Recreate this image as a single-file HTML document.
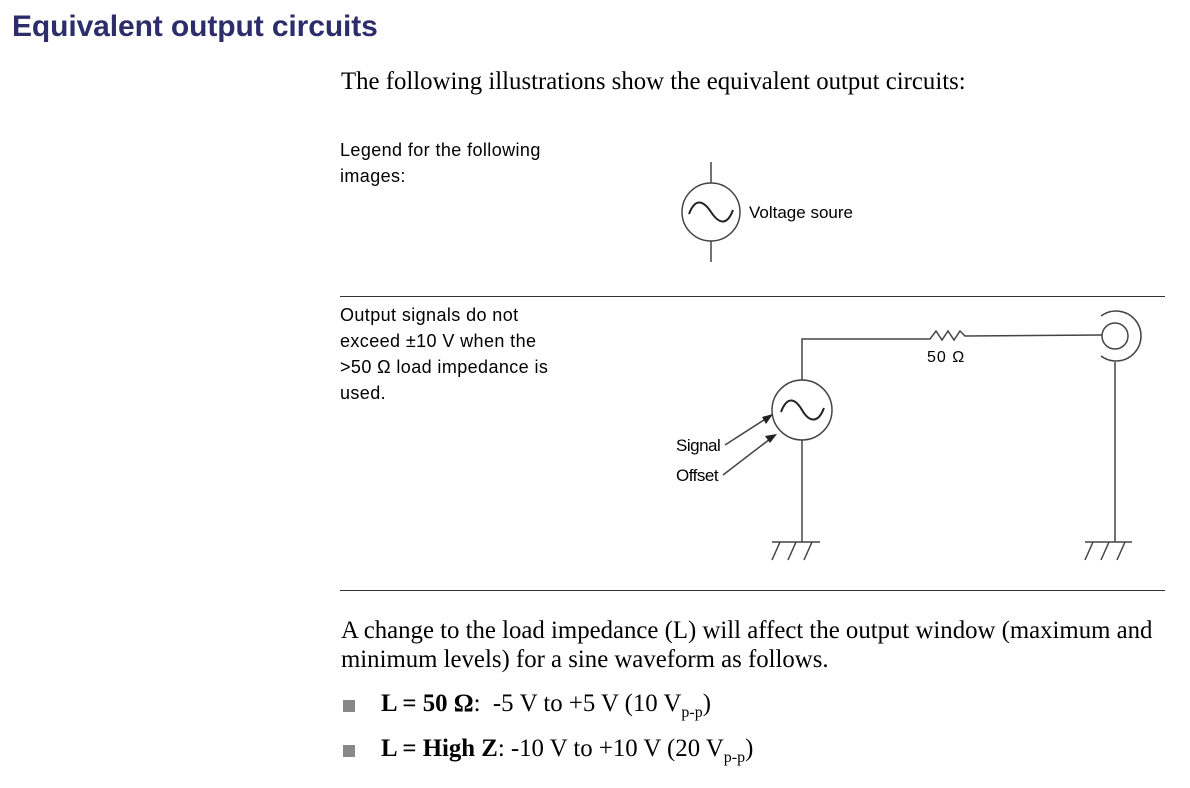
<!DOCTYPE html>
<html><head><style>
body{margin:0;width:1190px;height:788px;background:#fff;position:relative;overflow:hidden;font-family:"Liberation Sans",sans-serif;color:#000}
.a{position:absolute;white-space:nowrap}
.t{font-family:"Liberation Serif",serif;font-size:24.8px}
.s{font-size:18px;line-height:26px;letter-spacing:0.4px}
.hr{position:absolute;left:340px;width:825px;height:1px;background:#333}
.b{position:absolute;width:12px;height:12px;background:#888}
</style></head><body>
<div class="a" style="left:12px;top:10px;font-size:30px;font-weight:bold;color:#2d2d6b;letter-spacing:-0.1px">Equivalent output circuits</div>
<div class="a t" style="left:341px;top:68px">The following illustrations show the equivalent output circuits:</div>
<div class="a s" style="left:340px;top:137px">Legend for the following<br>images:</div>
<div class="hr" style="top:296px"></div>
<div class="a s" style="left:340px;top:302px">Output signals do not<br>exceed ±10 V when the<br>&gt;50 Ω load impedance is<br>used.</div>
<div class="hr" style="top:590px"></div>
<div class="a t" style="left:341px;top:616px;line-height:29px">A change to the load impedance (L) will affect the output window (maximum and<br>minimum levels) for a sine waveform as follows.</div>
<div class="b" style="left:343px;top:700px"></div>
<div class="a t" style="left:381px;top:690px"><b>L = 50 Ω</b>:&nbsp; -5 V to +5 V (10 V<sub style="font-size:16px">p-p</sub>)</div>
<div class="b" style="left:343px;top:745px"></div>
<div class="a t" style="left:381px;top:735px"><b>L = High Z</b>: -10 V to +10 V (20 V<sub style="font-size:16px">p-p</sub>)</div>
<svg class="a" style="left:0;top:0" width="1190" height="788" viewBox="0 0 1190 788">
<g fill="none" stroke="#444" stroke-width="1.5">
<line x1="711" y1="162" x2="711" y2="183"/><line x1="711" y1="241" x2="711" y2="262"/>
<circle cx="711" cy="212" r="29"/>
<path d="M689 214 C695 198,703 200,711 212 S727 226,733 210" stroke="#222" stroke-width="2"/>
<polyline points="802,380 802,339 930,339 936,331 942,340 948,331 954,340 960,331 965,336 1102,335"/>
<circle cx="802" cy="410" r="30"/>
<path d="M781 412 C787 396,795 398,802 410 S818 424,824 408" stroke="#222" stroke-width="2"/>
<line x1="802" y1="440" x2="802" y2="542"/>
<circle cx="1115" cy="336" r="13"/>
<path d="M1101 316 A25 25 0 1 1 1101 356"/>
<line x1="1115" y1="362" x2="1115" y2="542"/>
<line x1="772" y1="542" x2="820" y2="542"/>
<line x1="780" y1="542" x2="772" y2="560"/><line x1="796" y1="542" x2="788" y2="560"/><line x1="812" y1="542" x2="804" y2="560"/>
<line x1="1085" y1="542" x2="1132" y2="542"/>
<line x1="1093" y1="542" x2="1085" y2="560"/><line x1="1109" y1="542" x2="1101" y2="560"/><line x1="1125" y1="542" x2="1117" y2="560"/>
<line x1="725" y1="445" x2="767" y2="418"/><line x1="723" y1="475" x2="770" y2="439"/>
</g>
<polygon points="773,414 762,417 766,424" fill="#222"/>
<polygon points="777,434 765,436 770,443" fill="#222"/>
</svg>
<div class="a" style="left:749px;top:203px;font-size:17px;letter-spacing:0px">Voltage soure</div>
<div class="a" style="left:927px;top:349px;font-size:16px;letter-spacing:1px">50 Ω</div>
<div class="a" style="left:676px;top:436px;font-size:17px;letter-spacing:-0.5px">Signal</div>
<div class="a" style="left:676px;top:466px;font-size:17px;letter-spacing:-0.5px">Offset</div>
</body></html>
